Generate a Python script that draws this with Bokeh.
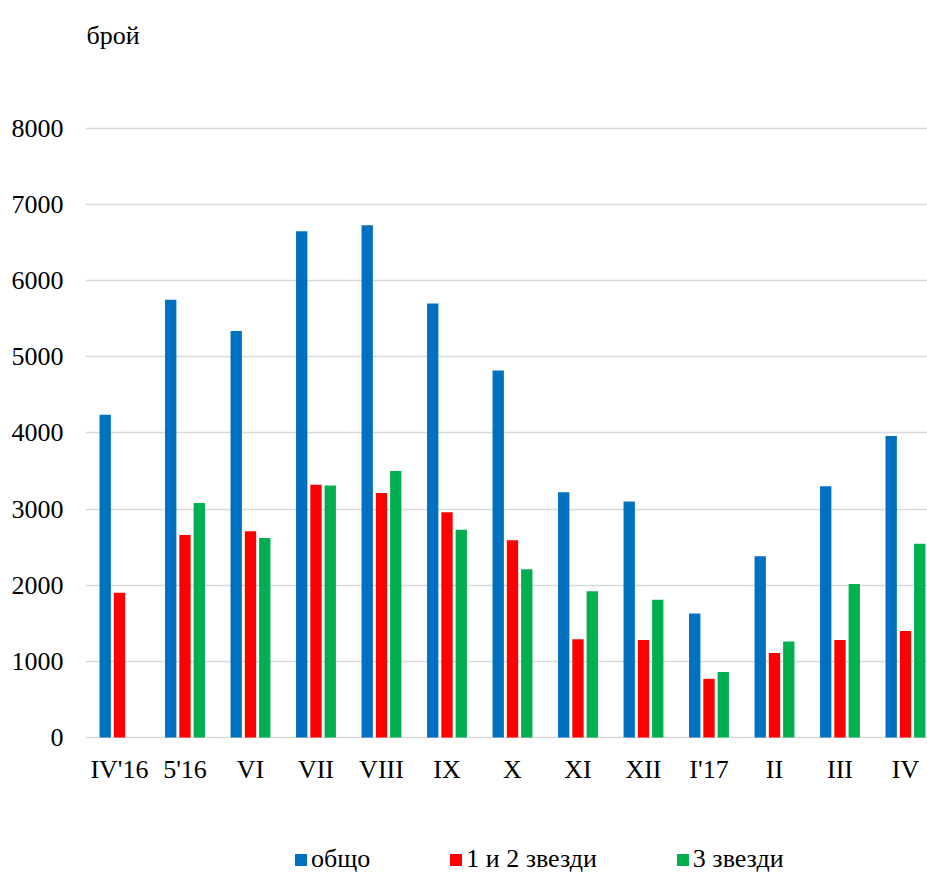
from bokeh.plotting import figure
from bokeh.models import ColumnDataSource, FixedTicker, Range1d, Legend, LegendItem, Label
from bokeh.transform import dodge
from bokeh.embed import file_html
from bokeh.resources import INLINE

categories = ["IV'16", "5'16", "VI", "VII", "VIII", "IX", "X", "XI", "XII", "I'17", "II", "III", "IV"]
total = [4240, 5750, 5340, 6650, 6730, 5700, 4820, 3220, 3100, 1630, 2380, 3300, 3960]
stars_1_2 = [1900, 2660, 2710, 3320, 3210, 2960, 2590, 1290, 1280, 770, 1110, 1280, 1400]
stars_3 = [float("nan"), 3080, 2620, 3310, 3500, 2730, 2210, 1920, 1810, 860, 1260, 2015, 2545]
series_names = ["общо", "1 и 2 звезди", "3 звезди"]
y_ticks = [0, 1000, 2000, 3000, 4000, 5000, 6000, 7000, 8000]
y_label = "брой"

FONT = "Liberation Serif"
colors = ["#0070C0", "#FF0000", "#00B050"]

src = ColumnDataSource(dict(
    x=list(range(len(categories))),
    total=total,
    s12=stars_1_2,
    s3=stars_3,
))

# frame spans the full canvas height; 0 sits at 737px, 8000 at 128px
p = figure(width=927, height=874, output_backend="svg", toolbar_location=None,
           x_range=Range1d(-0.519, 12.336), y_range=Range1d(-1800, 9681),
           min_border_left=85, min_border_right=0, min_border_top=0, min_border_bottom=0)
p.title.visible = False
p.outline_line_color = None
p.background_fill_color = "white"
p.border_fill_color = "white"

w = 0.173
off = 0.218
r1 = p.vbar(x=dodge("x", -off, range=p.x_range), top="total", width=w, source=src,
            fill_color=colors[0], line_color=None)
r2 = p.vbar(x=dodge("x", 0.0, range=p.x_range), top="s12", width=w, source=src,
            fill_color=colors[1], line_color=None)
r3 = p.vbar(x=dodge("x", off, range=p.x_range), top="s3", width=w, source=src,
            fill_color=colors[2], line_color=None)

# axes
p.xaxis.fixed_location = 0
p.xaxis.ticker = FixedTicker(ticks=list(range(len(categories))))
p.xaxis.major_label_overrides = {i: c for i, c in enumerate(categories)}
p.yaxis.ticker = FixedTicker(ticks=y_ticks)
for ax in (p.xaxis[0], p.yaxis[0]):
    ax.axis_line_color = None
    ax.major_tick_line_color = None
    ax.minor_tick_line_color = None
    ax.major_label_text_font = FONT
    ax.major_label_text_font_size = "26px"
    ax.major_label_text_color = "black"
p.yaxis.major_label_standoff = 16
p.xaxis.major_label_standoff = 12

p.xgrid.grid_line_color = None
p.ygrid.grid_line_color = "#D9D9D9"
p.ygrid.grid_line_width = 1.4

# unit label
p.add_layout(Label(x=-0.519, y=9221, x_offset=1, text=y_label,
                   text_font=FONT, text_font_size="26px", text_color="black",
                   text_align="left", text_baseline="alphabetic"))

legend = Legend(items=[LegendItem(label=series_names[0], renderers=[r1]),
                       LegendItem(label=series_names[1], renderers=[r2]),
                       LegendItem(label=series_names[2], renderers=[r3])],
                location=(208, 0), orientation="horizontal",
                glyph_width=15, glyph_height=15, label_standoff=3, spacing=78,
                padding=0, margin=0, border_line_color=None, background_fill_alpha=0,
                label_text_font=FONT, label_text_font_size="26px", label_text_color="black")
p.add_layout(legend)

open("out.html", "w").write(file_html(p, INLINE))
